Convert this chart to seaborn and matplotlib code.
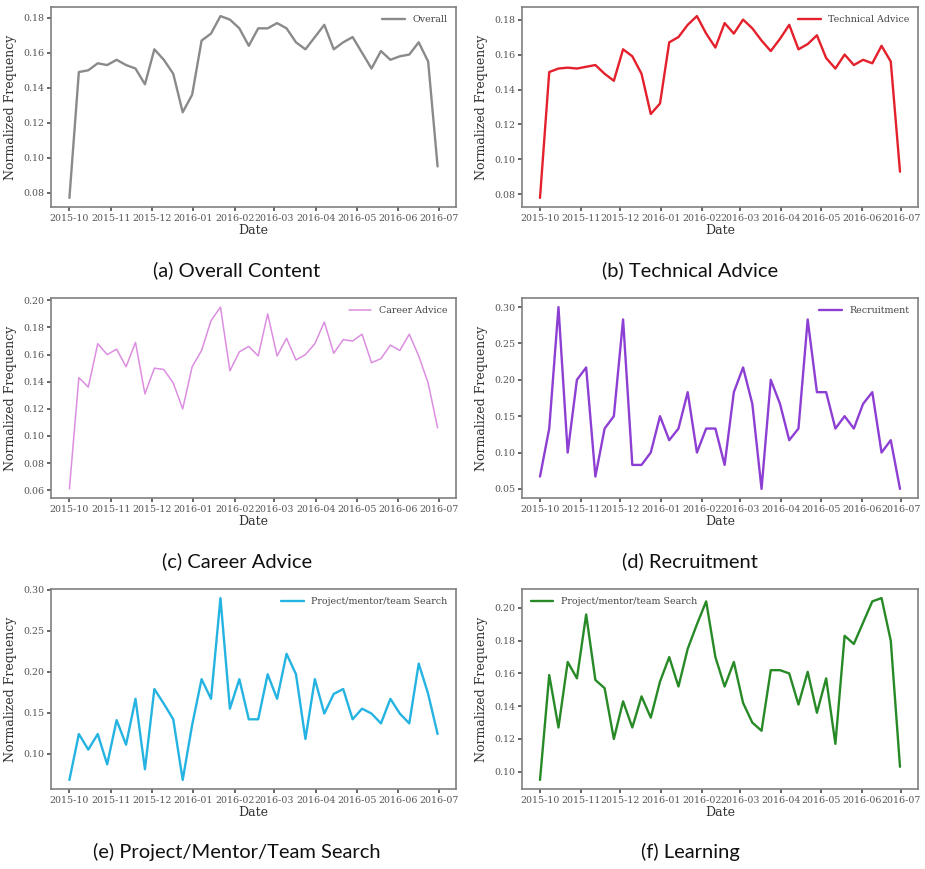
import numpy as np
import pandas as pd
import matplotlib
matplotlib.use("Agg")
import matplotlib.pyplot as plt
import seaborn as sns

# Weekly buckets, Oct 2015 - Jun 2016
dates = pd.date_range("2015-10-01", periods=40, freq="7D")

overall = [0.077, 0.149, 0.150, 0.154, 0.153, 0.156, 0.153, 0.151, 0.142, 0.162,
           0.156, 0.148, 0.126, 0.136, 0.167, 0.171, 0.181, 0.179, 0.174, 0.164,
           0.174, 0.174, 0.177, 0.174, 0.166, 0.162, 0.169, 0.176, 0.162, 0.166,
           0.169, 0.160, 0.151, 0.161, 0.156, 0.158, 0.159, 0.166, 0.155, 0.095]

technical = [0.078, 0.150, 0.152, 0.1525, 0.152, 0.153, 0.154, 0.149, 0.145, 0.163,
             0.159, 0.149, 0.126, 0.132, 0.167, 0.170, 0.177, 0.182, 0.172, 0.164,
             0.178, 0.172, 0.180, 0.175, 0.168, 0.162, 0.169, 0.177, 0.163, 0.166,
             0.171, 0.158, 0.152, 0.160, 0.154, 0.157, 0.155, 0.165, 0.156, 0.093]

career = [0.061, 0.143, 0.136, 0.168, 0.160, 0.164, 0.151, 0.169, 0.131, 0.150,
          0.149, 0.139, 0.120, 0.151, 0.163, 0.185, 0.195, 0.148, 0.162, 0.166,
          0.159, 0.190, 0.159, 0.172, 0.156, 0.160, 0.168, 0.184, 0.161, 0.171,
          0.170, 0.175, 0.154, 0.157, 0.167, 0.163, 0.175, 0.159, 0.139, 0.106]

recruitment = [0.067, 0.133, 0.300, 0.100, 0.200, 0.217, 0.067, 0.133, 0.150, 0.283,
               0.083, 0.083, 0.100, 0.150, 0.117, 0.133, 0.183, 0.100, 0.133, 0.133,
               0.083, 0.183, 0.217, 0.167, 0.050, 0.200, 0.167, 0.117, 0.133, 0.283,
               0.183, 0.183, 0.133, 0.150, 0.133, 0.167, 0.183, 0.100, 0.117, 0.050]

project = [0.068, 0.124, 0.105, 0.124, 0.087, 0.141, 0.111, 0.167, 0.081, 0.179,
           0.161, 0.142, 0.068, 0.135, 0.191, 0.167, 0.290, 0.155, 0.191, 0.142,
           0.142, 0.197, 0.167, 0.222, 0.197, 0.118, 0.191, 0.149, 0.173, 0.179,
           0.142, 0.155, 0.149, 0.137, 0.167, 0.149, 0.137, 0.210, 0.173, 0.124]

learning = [0.095, 0.159, 0.127, 0.167, 0.157, 0.196, 0.156, 0.151, 0.120, 0.143,
            0.127, 0.146, 0.133, 0.155, 0.170, 0.152, 0.175, 0.190, 0.204, 0.170,
            0.152, 0.167, 0.142, 0.130, 0.125, 0.162, 0.162, 0.160, 0.141, 0.161,
            0.136, 0.157, 0.117, 0.183, 0.178, 0.191, 0.204, 0.206, 0.180, 0.103]

panels = [
    ("Overall", overall, "#8a8a8a", 1.7, "upper right", "(a) Overall Content"),
    ("Technical Advice", technical, "#e3202b", 1.7, "upper right", "(b) Technical Advice"),
    ("Career Advice", career, "#dc8ee0", 1.1, "upper right", "(c) Career Advice"),
    ("Recruitment", recruitment, "#8e3fd3", 1.7, "upper right", "(d) Recruitment"),
    ("Project/mentor/team Search", project, "#25b3e2", 1.7, "upper right",
     "(e) Project/Mentor/Team Search"),
    ("Project/mentor/team Search", learning, "#278a27", 1.7, "upper left", "(f) Learning"),
]

sns.set_theme(style="ticks")
plt.rcParams["font.family"] = ["DejaVu Serif"]
plt.rcParams["axes.edgecolor"] = "#808080"
plt.rcParams["axes.linewidth"] = 1.2
plt.rcParams["xtick.color"] = "#555555"
plt.rcParams["ytick.color"] = "#555555"
plt.rcParams["xtick.major.size"] = 3
plt.rcParams["ytick.major.size"] = 3

fig = plt.figure(figsize=(9.25, 8.69), dpi=100)

W, H = 925, 869
lefts = [51, 522]
widths = [405, 396]
tops = [7, 298, 589]
height = 200
caption_y = [270, 561, 852]
caption_x = [237, 690]

for i, (label, values, color, lw, loc, caption) in enumerate(panels):
    row, col = divmod(i, 2)
    ax = fig.add_axes([lefts[col] / W, 1 - (tops[row] + height) / H,
                       widths[col] / W, height / H])
    df = pd.DataFrame({"Date": dates, "Normalized Frequency": values})
    sns.lineplot(data=df, x="Date", y="Normalized Frequency", ax=ax,
                 color=color, linewidth=lw, label=label)
    ax.xaxis.set_major_locator(matplotlib.dates.MonthLocator())
    ax.xaxis.set_major_formatter(matplotlib.dates.DateFormatter("%Y-%m"))
    ax.tick_params(axis="both", labelsize=6.8, pad=2)
    ax.set_xlabel("Date", fontsize=9, labelpad=1, color="#333333")
    ax.set_ylabel("Normalized Frequency", fontsize=9, labelpad=4, color="#333333")
    for s in ax.spines.values():
        s.set_visible(True)
    ax.legend(loc=loc, frameon=False, fontsize=6.8, handlelength=2.4,
              labelcolor="#444444")
    fig.text(caption_x[col] / W, 1 - caption_y[row] / H, caption,
             ha="center", va="center", fontsize=14.5, family="Lato", color="#111111")

fig.savefig("out.png", dpi=100)
